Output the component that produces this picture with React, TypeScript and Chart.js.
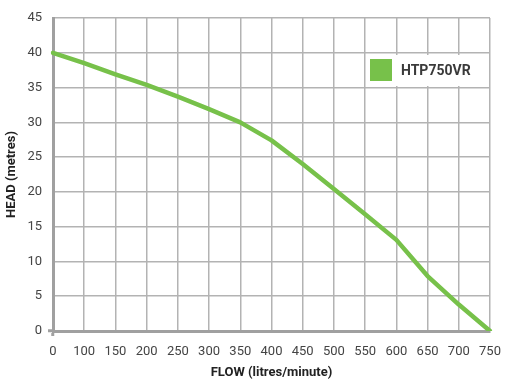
import React, { useEffect, useRef } from "react";
import { Chart, registerables } from "chart.js";

Chart.register(...registerables);

const flowLabels = ["0", "100", "150", "200", "250", "300", "350", "400", "450", "500", "550", "600", "650", "700", "750"];
const headValues = [40, 38.5, 36.9, 35.4, 33.7, 31.9, 30, 27.4, 24.0, 20.4, 16.8, 13.1, 7.9, 3.8, 0];
const yTicks = [0, 5, 10, 15, 20, 25, 30, 35, 40, 45];
const seriesName = "HTP750VR";
const lineColor = "#77c14a";
const gridColor = "#b3b3b3";
const axisColor = "#a0a0a0";

const legendPlugin = {
  id: "innerLegend",
  afterDatasetsDraw(chart: any) {
    const { ctx, chartArea } = chart;
    const ds = chart.data.datasets[0];
    const x0 = chartArea.right - 124;
    const y0 = chartArea.top + 37;
    ctx.save();
    ctx.fillStyle = "#ffffff";
    ctx.fillRect(x0, y0, 122, 31);
    ctx.fillStyle = ds.borderColor;
    ctx.fillRect(x0 + 4, y0 + 4, 22, 22);
    ctx.fillStyle = "#3a3a3a";
    ctx.font = "bold 14px Roboto";
    ctx.textBaseline = "middle";
    ctx.textAlign = "left";
    ctx.fillText(ds.label, x0 + 35, y0 + 16);
    ctx.restore();
  },
};

export default function App() {
  const ref = useRef<HTMLCanvasElement>(null);
  useEffect(() => {
    if (!ref.current) return;
    const chart = new Chart(ref.current, {
      type: "line",
      data: {
        labels: flowLabels,
        datasets: [
          {
            label: seriesName,
            data: headValues,
            borderColor: lineColor,
            backgroundColor: lineColor,
            borderWidth: 4.5,
            pointRadius: 0,
            tension: 0,
            borderCapStyle: "round",
            borderJoinStyle: "round",
          },
        ],
      },
      options: {
        animation: false,
        responsive: false,
        layout: { padding: { top: 18, right: 22, left: 0, bottom: 0 } },
        plugins: {
          legend: { display: false },
          tooltip: { enabled: false },
        },
        scales: {
          x: {
            type: "category",
            offset: false,
            grid: {
              color: gridColor,
              lineWidth: 1.5,
              drawTicks: true,
              tickLength: 5,
              tickColor: (c: any) => (c.index === 0 ? axisColor : "rgba(0,0,0,0)"),
              tickWidth: 3,
            },
            border: { color: axisColor, width: 3 },
            ticks: {
              color: "#444",
              font: { family: "Roboto", size: 13 },
              padding: 8,
              maxRotation: 0,
              autoSkip: false,
            },
            title: {
              display: true,
              text: "FLOW (litres/minute)",
              color: "#222",
              font: { family: "Roboto", size: 13, weight: "bold" },
              padding: { top: 4, bottom: 6 },
            },
            afterFit: (s: any) => {
              s.height = 56;
            },
          },
          y: {
            min: 0,
            max: 45,
            afterBuildTicks: (s: any) => {
              s.ticks = yTicks.map((v) => ({ value: v }));
            },
            grid: {
              color: gridColor,
              lineWidth: 1.5,
              drawTicks: true,
              tickLength: 5,
              tickColor: (c: any) => (c.index === 0 ? axisColor : "rgba(0,0,0,0)"),
              tickWidth: 3,
            },
            border: { color: axisColor, width: 3 },
            ticks: {
              color: "#444",
              font: { family: "Roboto", size: 13 },
              padding: 6,
            },
            title: {
              display: true,
              text: "HEAD (metres)",
              color: "#222",
              font: { family: "Roboto", size: 13, weight: "bold" },
              padding: { top: 4, bottom: 4 },
            },
            afterFit: (s: any) => {
              s.width = 53;
            },
          },
        },
      },
      plugins: [legendPlugin],
    } as any);
    return () => chart.destroy();
  }, []);
  return (
    <div style={{ position: "absolute", left: 0, top: 0, width: 512, height: 387, background: "#fff" }}>
      <canvas ref={ref} width={512} height={387} />
    </div>
  );
}
